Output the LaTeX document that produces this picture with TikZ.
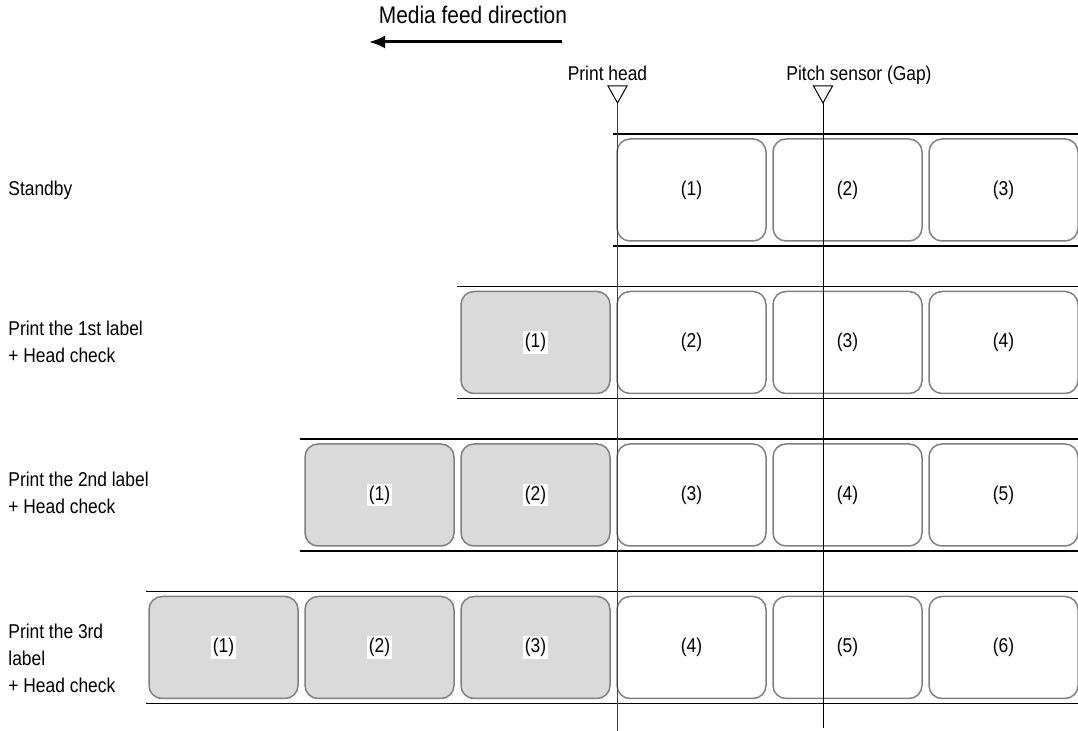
\documentclass[tikz,border=0pt]{standalone}
\usepackage{fontspec}
\setmainfont[FakeStretch=0.87]{Liberation Sans}
\usetikzlibrary{arrows.meta,positioning}
\definecolor{labelgray}{RGB}{218,218,218}
\definecolor{edgegray}{RGB}{128,128,128}

\begin{document}
\begin{tikzpicture}[x=0.5pt,y=-0.5pt,font=\fontsize{10}{13.5}\selectfont,
   node distance=3.5pt,
   lbl/.style={draw=edgegray,line width=0.75pt,rounded corners=6.5pt,fill=white,
               minimum width=74.5pt,minimum height=51pt,inner sep=0pt,outer sep=0pt},
   done/.style={lbl,fill=labelgray},
   numtag/.style={fill=white,inner sep=1pt},
   tape/.style={line width=0.75pt},
   sensorline/.style={line width=0.5pt},
   rowtext/.style={anchor=west,align=left,inner sep=0pt}]
  \useasboundingbox (0,0) rectangle (1078,731);

  % feed direction
  \node[anchor=base,font=\fontsize{12}{14}\selectfont] (feed) at (473,24) {Media feed direction};
  \coordinate (feedstart) at (562,42);
  \coordinate (feedend) at (369,42);
  \draw[-{Latex[length=8pt,width=6.5pt]},line width=1.5pt] (feedstart) -- (feedend);

  % row captions
  \node[rowtext] (standby) at (8,190) {Standby};
  \node[rowtext] (first)   at (8,342) {Print the 1st label\\+ Head check};
  \node[rowtext] (second)  at (8,493) {Print the 2nd label\\+ Head check};
  \node[rowtext] (third)   at (8,658) {Print the 3rd\\label\\+ Head check};

  % tape edges
  \draw[tape] (613,134) -- (1078,134) (613,246) -- (1078,246);
  \draw[tape] (457,286.5) -- (1078,286.5) (457,398.5) -- (1078,398.5);
  \draw[tape] (300,439) -- (1078,439) (300,551) -- (1078,551);
  \draw[tape] (146,591.5) -- (1078,591.5) (146,703.5) -- (1078,703.5);

  % standby
  \node[lbl] (a1) at (691.5,190) {(1)};
  \node[lbl,right=of a1] (a2) {(2)};
  \node[lbl,right=of a2] (a3) {(3)};

  % 1st label printed
  \node[done,label={[numtag]center:(1)}] (b1) at (535.5,342.5) {};
  \node[lbl,right=of b1] (b2) {(2)};
  \node[lbl,right=of b2] (b3) {(3)};
  \node[lbl,right=of b3] (b4) {(4)};

  % 2nd label printed
  \node[done,label={[numtag]center:(1)}] (c1) at (379.5,495) {};
  \node[done,right=of c1,label={[numtag]center:(2)}] (c2) {};
  \node[lbl,right=of c2] (c3) {(3)};
  \node[lbl,right=of c3] (c4) {(4)};
  \node[lbl,right=of c4] (c5) {(5)};

  % 3rd label printed
  \node[done,label={[numtag]center:(1)}] (d1) at (223.5,647.5) {};
  \node[done,right=of d1,label={[numtag]center:(2)}] (d2) {};
  \node[done,right=of d2,label={[numtag]center:(3)}] (d3) {};
  \node[lbl,right=of d3] (d4) {(4)};
  \node[lbl,right=of d4] (d5) {(5)};
  \node[lbl,right=of d5] (d6) {(6)};

  % print head and pitch sensor
  \node[anchor=base] (headname) at (607.5,81) {Print head};
  \node[anchor=base] (sensorname) at (859,81) {Pitch sensor (Gap)};
  \coordinate (headtip) at (617.5,103);
  \coordinate (headend) at (617.5,731);
  \coordinate (sensortip) at (823,103);
  \coordinate (sensorend) at (823,728);
  \draw[sensorline] (608,86) -- (627,86) -- (headtip) -- cycle;
  \draw[sensorline] (813.5,86) -- (832.5,86) -- (sensortip) -- cycle;
  \draw[sensorline,black!75] (headtip) -- (headend);
  \draw[sensorline] (sensortip) -- (sensorend);
\end{tikzpicture}
\end{document}
